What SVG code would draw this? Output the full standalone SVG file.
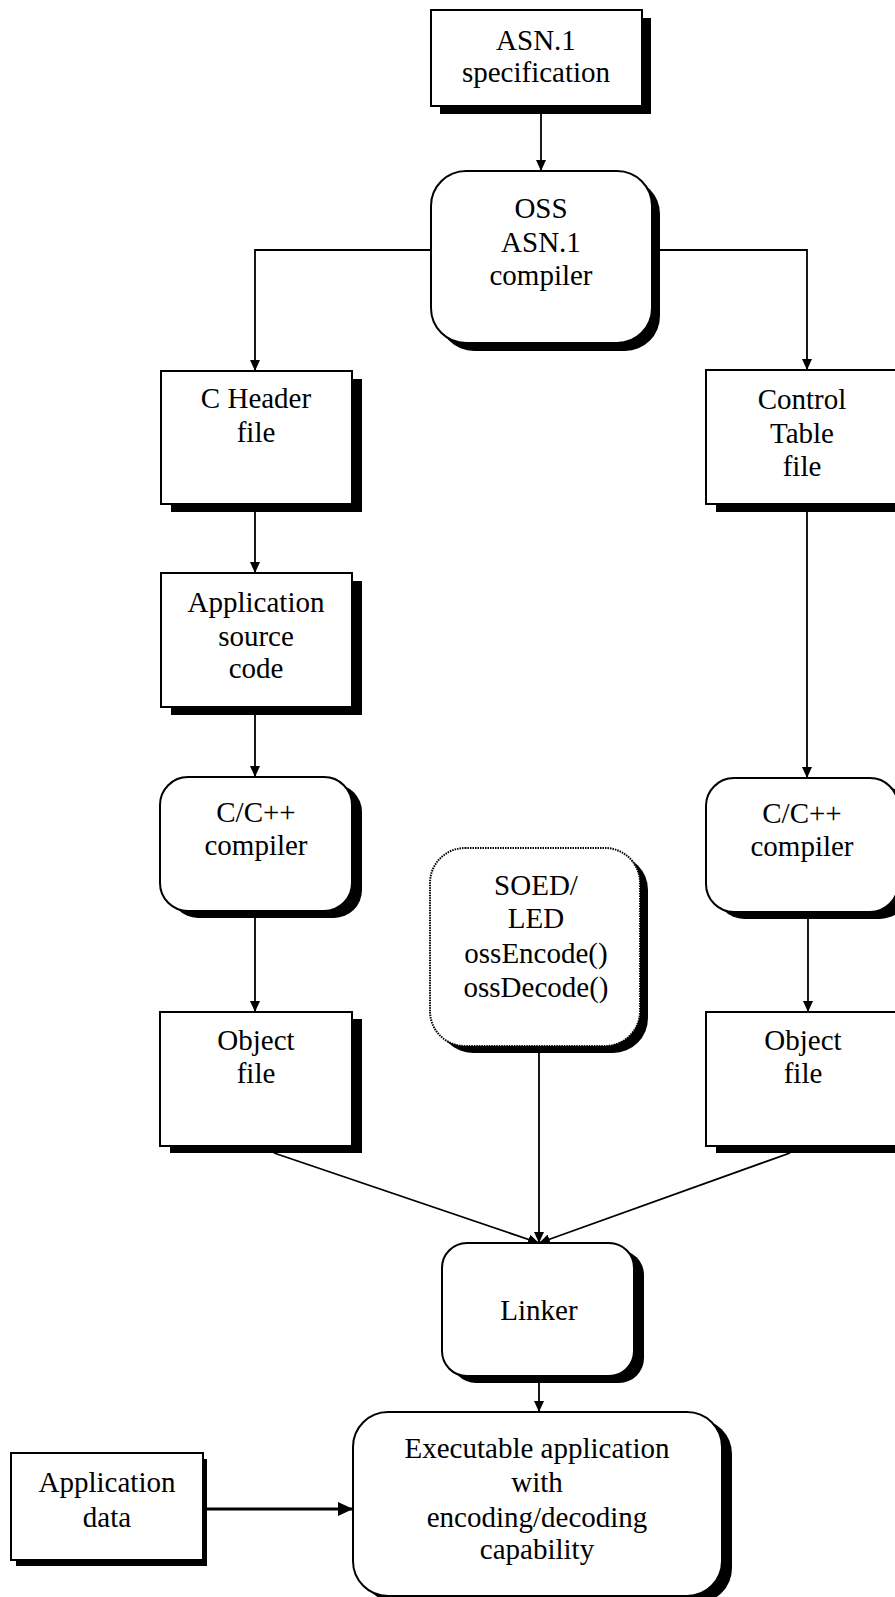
<svg xmlns="http://www.w3.org/2000/svg" width="895" height="1597" viewBox="0 0 895 1597">
<style>
.box{fill:#fff;stroke:#000;stroke-width:2}
.dot{fill:#fff;stroke:#000;stroke-width:2;stroke-dasharray:1.5 1}
.sh{fill:#000}
.t{font-family:"Liberation Serif","Times New Roman",serif;font-size:29px;text-anchor:middle;fill:#000}
.c{stroke:#000;stroke-width:1.8;fill:none;marker-end:url(#ah)}
.c2{stroke:#000;stroke-width:3;fill:none;marker-end:url(#ah2)}
</style>
<defs>
<marker id="ah" markerUnits="userSpaceOnUse" markerWidth="12" markerHeight="10" refX="11" refY="5" orient="auto"><path d="M0,0 L11,5 L0,10 z" fill="#000"/></marker>
<marker id="ah2" markerUnits="userSpaceOnUse" markerWidth="16" markerHeight="16" refX="15" refY="7" orient="auto"><path d="M0,0 L15,7 L0,14 z" fill="#000"/></marker>
</defs>
<rect width="895" height="1597" fill="#fff"/>
<g id="connectors">
<path class="c" d="M541,113 V171"/>
<path class="c" d="M431,250 H255 V371"/>
<path class="c" d="M652,250 H807 V370"/>
<path class="c" d="M255,512 V573"/>
<path class="c" d="M255,715 V777"/>
<path class="c" d="M255,918 V1012"/>
<path class="c" d="M807,512 V778"/>
<path class="c" d="M808,919 V1012"/>
<path class="c" d="M274,1153 L539,1243"/>
<path class="c" d="M539,1053 V1243"/>
<path class="c" d="M790,1153 L539,1243"/>
<path class="c" d="M539,1383 V1412"/>
<path class="c2" d="M207,1509 H353"/>
</g>
<g id="asn-spec">
<rect class="sh" x="440" y="18" width="211" height="96"/>
<rect class="box" x="431" y="10" width="211" height="96"/>
<text class="t" x="536" y="50">ASN.1</text>
<text class="t" x="536" y="82">specification</text>
</g>
<g id="oss-compiler">
<rect class="sh" x="439" y="179" width="221" height="172" rx="35"/>
<rect class="box" x="431" y="171" width="221" height="172" rx="35"/>
<text class="t" x="541" y="218">OSS</text>
<text class="t" x="541" y="252">ASN.1</text>
<text class="t" x="541" y="285">compiler</text>
</g>
<g id="c-header">
<rect class="sh" x="171" y="379" width="191" height="133"/>
<rect class="box" x="161" y="371" width="191" height="133"/>
<text class="t" x="256" y="408">C Header</text>
<text class="t" x="256" y="442">file</text>
</g>
<g id="control-table">
<rect class="sh" x="716" y="378" width="192" height="134"/>
<rect class="box" x="706" y="370" width="192" height="134"/>
<text class="t" x="802" y="409">Control</text>
<text class="t" x="802" y="443">Table</text>
<text class="t" x="802" y="476">file</text>
</g>
<g id="app-source">
<rect class="sh" x="171" y="581" width="191" height="134"/>
<rect class="box" x="161" y="573" width="191" height="134"/>
<text class="t" x="256" y="612">Application</text>
<text class="t" x="256" y="646">source</text>
<text class="t" x="256" y="678">code</text>
</g>
<g id="cc-left">
<rect class="sh" x="170" y="784" width="192" height="134" rx="28"/>
<rect class="box" x="160" y="777" width="192" height="134" rx="28"/>
<text class="t" x="256" y="822">C/C++</text>
<text class="t" x="256" y="855">compiler</text>
</g>
<g id="cc-right">
<rect class="sh" x="716" y="785" width="192" height="134" rx="28"/>
<rect class="box" x="706" y="778" width="192" height="134" rx="28"/>
<text class="t" x="802" y="823">C/C++</text>
<text class="t" x="802" y="856">compiler</text>
</g>
<g id="soed-led">
<rect class="sh" x="438" y="855" width="210" height="198" rx="35"/>
<rect class="dot" x="430" y="848" width="210" height="198" rx="35"/>
<text class="t" x="536" y="895">SOED/</text>
<text class="t" x="536" y="928">LED</text>
<text class="t" x="536" y="963">ossEncode()</text>
<text class="t" x="536" y="997">ossDecode()</text>
</g>
<g id="object-left">
<rect class="sh" x="170" y="1019" width="192" height="134"/>
<rect class="box" x="160" y="1012" width="192" height="134"/>
<text class="t" x="256" y="1050">Object</text>
<text class="t" x="256" y="1083">file</text>
</g>
<g id="object-right">
<rect class="sh" x="716" y="1019" width="192" height="134"/>
<rect class="box" x="706" y="1012" width="192" height="134"/>
<text class="t" x="803" y="1050">Object</text>
<text class="t" x="803" y="1083">file</text>
</g>
<g id="linker">
<rect class="sh" x="451" y="1250" width="193" height="133" rx="25"/>
<rect class="box" x="442" y="1243" width="192" height="133" rx="25"/>
<text class="t" x="539" y="1320">Linker</text>
</g>
<g id="executable">
<rect class="sh" x="362" y="1419" width="370" height="184" rx="35"/>
<rect class="box" x="353" y="1412" width="369" height="184" rx="35"/>
<text class="t" x="537" y="1458">Executable application</text>
<text class="t" x="537" y="1492">with</text>
<text class="t" x="537" y="1527">encoding/decoding</text>
<text class="t" x="537" y="1559">capability</text>
</g>
<g id="app-data">
<rect class="sh" x="16" y="1459" width="191" height="107"/>
<rect class="box" x="11" y="1453" width="192" height="107"/>
<text class="t" x="107" y="1492">Application</text>
<text class="t" x="107" y="1527">data</text>
</g>
</svg>
